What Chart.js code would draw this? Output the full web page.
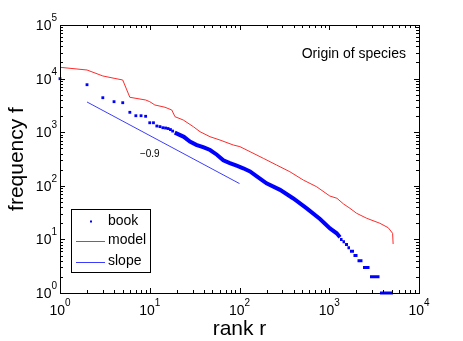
<!DOCTYPE html>
<html>
<head>
<meta charset="utf-8">
<script src="https://cdn.jsdelivr.net/npm/chart.js@4/dist/chart.umd.min.js"></script>
<style>
  body { margin: 0; background: #fff; }
  canvas { display: block; }
</style>
</head>
<body>
<canvas id="zipf" width="463" height="341"></canvas>
<script>
// book: single words at the top ranks
const bookRank = [1, 2, 3, 4, 5, 6, 7, 8, 9, 10, 11, 12, 13, 14, 15, 16, 17, 18];
const bookFreq = [9960, 7690, 4400, 3710, 3550, 2350, 2030, 2030, 1980, 1500, 1500, 1305, 1270, 1213, 1197, 1170, 1120, 1050];
// book: dense part of the curve (points overlap into a band)
const bandRank = [19, 24, 28, 33, 40, 47, 56, 66, 78, 93, 110, 131, 156, 200, 283, 398, 561, 789, 1019, 1210, 1318];
const bandFreq = [980, 820, 670, 580, 520, 465, 380, 300, 265, 237, 212, 185, 150, 111, 84, 58, 38, 24, 16, 13, 11];
// book: low frequencies, one run of ranks per frequency
const stepFreq = [1, 2, 3, 4, 5, 6, 7, 8, 9, 10];
const stepStart = [3675, 2845, 2378, 2065, 1862, 1702, 1596, 1497, 1406, 1318];
const stepEnd = [5130, 3630, 2810, 2345, 2065, 1888, 1702, 1618, 1497, 1406];

const modelRank = [1, 2, 3, 4, 5, 6, 9, 10, 11.4, 14.8, 17.6, 19.1, 23.6, 30.6, 36.3, 46.9, 60.6, 85.3, 101, 131, 184, 259, 364, 514, 724, 1014, 1218, 1438, 1702, 2019, 2611, 3662, 4547, 5080, 5150];
const modelFreq = [16250, 14460, 11200, 10140, 9420, 4480, 3990, 3710, 3220, 2920, 2594, 1946, 1690, 1268, 1021, 824, 714, 577, 538, 433, 326, 244, 183, 128, 96, 64.5, 58.5, 46, 38, 30.7, 24.8, 20, 16.5, 13, 8.2];

const slopeRank = [2, 100];
const slopeFreq = [3660, 110];
const slopeLabel = '\u22120.9';

const xTicks = [1, 10, 100, 1000, 10000];
const xExp = ['0', '1', '2', '3', '4'];
const yTicks = [1, 10, 100, 1000, 10000, 100000];
const yExp = ['0', '1', '2', '3', '4', '5'];

const legendNames = ['book', 'model', 'slope'];

const FONT = '"Liberation Sans", Arial, Helvetica, sans-serif';
const BLUE = '#0000ff';
const RED = '#ff2a2a';
const SLOPE = '#3c3cff';

const pts = (xs, ys) => xs.map((x, i) => ({ x: x, y: ys[i] }));

const steps = [];
stepFreq.forEach((f, i) => {
  steps.push({ x: stepStart[i], y: f }, { x: stepEnd[i], y: f }, { x: stepEnd[i], y: null });
});

const axesPlugin = {
  id: 'matlabAxes',
  afterDraw(chart) {
    const { ctx, chartArea: a, scales: { x, y } } = chart;
    ctx.save();
    ctx.strokeStyle = '#000';
    ctx.lineWidth = 1;
    ctx.strokeRect(a.left + 0.5, a.top + 0.5, a.right - a.left, a.bottom - a.top);

    // inward ticks on all four sides
    ctx.beginPath();
    for (let d = 0; d < xTicks.length; d++) {
      for (let m = 1; m <= 9; m++) {
        const v = xTicks[d] * m;
        if (v > xTicks[xTicks.length - 1]) break;
        const len = m === 1 ? 5 : 3;
        const px = Math.round(x.getPixelForValue(v)) + 0.5;
        ctx.moveTo(px, a.bottom); ctx.lineTo(px, a.bottom - len);
        ctx.moveTo(px, a.top); ctx.lineTo(px, a.top + len);
      }
    }
    for (let d = 0; d < yTicks.length; d++) {
      for (let m = 1; m <= 9; m++) {
        const v = yTicks[d] * m;
        if (v > yTicks[yTicks.length - 1]) break;
        const len = m === 1 ? 5 : 3;
        const py = Math.round(y.getPixelForValue(v)) + 0.5;
        ctx.moveTo(a.left, py); ctx.lineTo(a.left + len, py);
        ctx.moveTo(a.right, py); ctx.lineTo(a.right - len, py);
      }
    }
    ctx.stroke();

    // tick labels 10^n
    ctx.fillStyle = '#000';
    ctx.textBaseline = 'alphabetic';
    ctx.textAlign = 'left';
    const big = '14px ' + FONT, small = '10px ' + FONT;
    xTicks.forEach((v, i) => {
      ctx.font = big; const w1 = ctx.measureText('10').width;
      ctx.font = small; const w2 = ctx.measureText(xExp[i]).width;
      const px = x.getPixelForValue(v) - (w1 + w2) / 2;
      const base = a.bottom + 22;
      ctx.font = big; ctx.fillText('10', px, base);
      ctx.font = small; ctx.fillText(xExp[i], px + w1, base - 9);
    });
    yTicks.forEach((v, i) => {
      ctx.font = big; const w1 = ctx.measureText('10').width;
      ctx.font = small; const w2 = ctx.measureText(yExp[i]).width;
      const right = a.left - 3;
      const base = y.getPixelForValue(v) + 5;
      ctx.font = big; ctx.fillText('10', right - w2 - w1, base);
      ctx.font = small; ctx.fillText(yExp[i], right - w2, base - 9);
    });

    // axis titles
    ctx.font = '21px ' + FONT;
    ctx.textAlign = 'center';
    ctx.fillText('rank r', (a.left + a.right) / 2, a.bottom + 42);
    ctx.save();
    ctx.translate(23, (a.top + a.bottom) / 2);
    ctx.rotate(-Math.PI / 2);
    ctx.fillText('frequency f', 0, 0);
    ctx.restore();

    // annotations
    ctx.font = '14px ' + FONT;
    ctx.textAlign = 'right';
    ctx.fillText('Origin of species', a.right - 13, a.top + 33);
    ctx.font = '10px ' + FONT;
    ctx.textAlign = 'center';
    ctx.fillText(slopeLabel, x.getPixelForValue(10), y.getPixelForValue(345));

    // legend box
    const lx = a.left + 11, ly = a.top + 184, lw = 79, lh = 63;
    ctx.fillStyle = '#fff';
    ctx.fillRect(lx, ly, lw, lh);
    ctx.strokeRect(lx + 0.5, ly + 0.5, lw, lh);
    ctx.font = '14px ' + FONT;
    ctx.textAlign = 'left';
    ctx.textBaseline = 'middle';
    const rows = [12.5, 31.5, 52.5];
    legendNames.forEach((name, i) => {
      const cy = ly + rows[i];
      if (i === 0) {
        ctx.fillStyle = BLUE;
        ctx.fillRect(lx + 19, cy - 1, 2, 2);
      } else {
        ctx.strokeStyle = i === 1 ? RED : SLOPE;
        ctx.beginPath();
        ctx.moveTo(lx + 5, Math.round(cy) + 0.5);
        ctx.lineTo(lx + 34, Math.round(cy) + 0.5);
        ctx.stroke();
      }
      ctx.fillStyle = '#000';
      ctx.fillText(name, lx + 37, cy);
    });
    ctx.restore();
  }
};

new Chart(document.getElementById('zipf').getContext('2d'), {
  type: 'line',
  data: {
    datasets: [
      {
        label: 'model',
        data: pts(modelRank, modelFreq),
        borderColor: RED,
        borderWidth: 1,
        pointRadius: 0,
        tension: 0
      },
      {
        label: 'slope',
        data: pts(slopeRank, slopeFreq),
        borderColor: SLOPE,
        borderWidth: 1,
        pointRadius: 0
      },
      {
        label: 'book',
        data: pts(bookRank, bookFreq),
        showLine: false,
        pointStyle: 'rect',
        pointRadius: 2,
        pointBorderWidth: 0,
        pointBackgroundColor: BLUE,
        clip: false
      },
      {
        label: 'book band',
        data: pts(bandRank, bandFreq),
        borderColor: BLUE,
        borderWidth: 4,
        pointRadius: 0
      },
      {
        label: 'book steps',
        data: steps,
        borderColor: BLUE,
        borderWidth: 3,
        borderCapStyle: 'butt',
        pointRadius: 0,
        spanGaps: false,
        clip: 3
      }
    ]
  },
  options: {
    responsive: false,
    animation: false,
    layout: { padding: { left: 60, top: 25, right: 44, bottom: 48 } },
    scales: {
      x: { type: 'logarithmic', min: 1, max: 10000, display: false },
      y: { type: 'logarithmic', min: 1, max: 100000, display: false }
    },
    plugins: {
      legend: { display: false },
      tooltip: { enabled: false }
    }
  },
  plugins: [axesPlugin]
});
</script>
</body>
</html>
